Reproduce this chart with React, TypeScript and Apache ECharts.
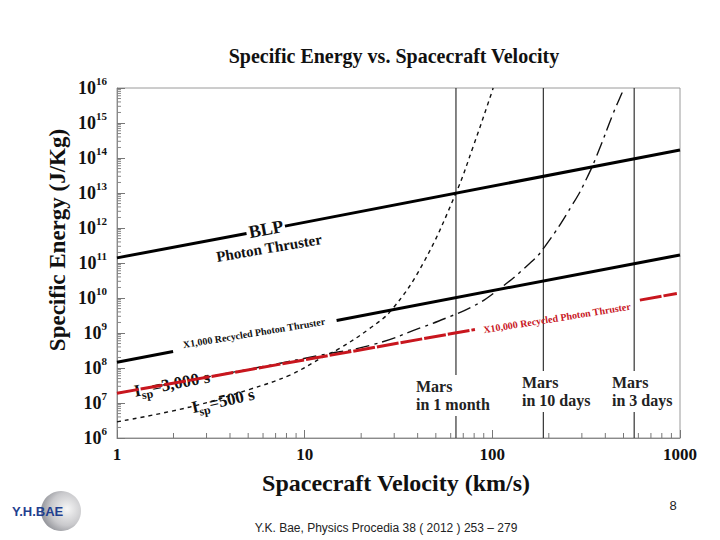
import React, { useEffect, useRef } from 'react';
import * as echarts from 'echarts';

const SERIF = '"Liberation Serif", "Times New Roman", serif';
const SANS = '"Liberation Sans", Arial, sans-serif';

// ---- data (velocity in km/s, specific energy in J/kg) ----
const blpSeg1V = [1, 4.9];
const blpSeg1E = [1.4e11, 7.0e11];
const blpSeg2V = [7.85, 1000];
const blpSeg2E = [1.13e12, 1.7e14];

const x1kSeg1V = [1, 1.99];
const x1kSeg1E = [1.46e8, 2.95e8];
const x1kSeg2V = [14.8, 1000];
const x1kSeg2E = [2.29e9, 1.7e11];

const x10kSeg1V = [1, 80.8];
const x10kSeg1E = [1.9e7, 1.26e9];
const x10kSeg2V = [611, 962];
const x10kSeg2E = [8.7e9, 1.35e10];

const isp500V = [1, 2.45, 5.1, 8.35, 12.6, 15.4, 22, 29.1, 42.8, 64.5, 79, 99, 101];
const isp500E = [2.9e6, 7.7e6, 2.46e7, 6.3e7, 2.1e8, 3.66e8, 1.3e9, 4.6e9, 9.8e10, 1.1e13, 2.1e14, 7.1e15, 1e16];

const isp3000V = [1, 3, 6, 12, 23.2, 42.8, 57, 78, 103, 159, 190, 270, 318, 367, 441, 492, 505];
const isp3000E = [1.9e7, 5.5e7, 1.1e8, 2.3e8, 4.7e8, 1.5e9, 2.7e9, 5.6e9, 1.45e10, 1e11, 2.9e11, 5.1e12, 2.6e13, 1.5e14, 1.9e15, 7.4e15, 1e16];

const marsV = [64, 187, 570];
const marsLabels = ['Mars\nin 1 month', 'Mars\nin 10 days', 'Mars\nin 3 days'];

const xMin = 1;
const xMax = 1000;
const yMin = 1e6;
const yMax = 1e16;

const zip = (a: number[], b: number[]) => a.map((v, i) => [v, b[i]]);

// minor tick positions (2..9 within each decade)
const minorX: number[] = [];
for (let d = 1; d < xMax; d *= 10) for (let k = 2; k <= 9; k++) minorX.push(d * k);
const minorY: number[] = [];
for (let d = yMin; d < yMax; d *= 10) for (let k = 2; k <= 9; k++) minorY.push(d * k);

export default function App() {
  const ref = useRef<HTMLDivElement>(null);

  useEffect(() => {
    if (!ref.current) return;
    const chart = echarts.init(ref.current, undefined, { renderer: 'svg' });

    const solid = (name: string, data: number[][], color: string, z: number, type: any = 'solid') => ({
      name,
      type: 'line',
      data,
      showSymbol: false,
      symbol: 'none',
      z,
      lineStyle: { color, width: 3, type },
      silent: true,
    });

    const ispRich = {
      i: { fontFamily: SERIF, fontWeight: 'bold', fontSize: 17, fill: '#111' },
      sub: { fontFamily: SERIF, fontWeight: 'bold', fontSize: 12, fill: '#111', padding: [11, 0, 0, 0] },
      n: { fontFamily: SERIF, fontWeight: 'bold', fontSize: 17, fill: '#111' },
    };

    const option: any = {
      animation: false,
      backgroundColor: '#ffffff',
      grid: { left: 117, right: 40, top: 88, bottom: 102, show: true, borderColor: '#9a9a9a', borderWidth: 1 },
      xAxis: {
        type: 'log',
        logBase: 10,
        min: xMin,
        max: xMax,
        interval: 1,
        axisLine: { show: true, lineStyle: { color: '#8a8a8a', width: 1 } },
        axisTick: { show: true, inside: true, length: 8, lineStyle: { color: '#777' } },
        splitLine: { show: false },
        axisLabel: {
          margin: 8,
          color: '#111',
          fontFamily: SERIF,
          fontWeight: 'bold',
          fontSize: 17,
          formatter: (v: number) => String(Math.round(v)),
        },
      },
      yAxis: {
        type: 'log',
        logBase: 10,
        min: yMin,
        max: yMax,
        interval: 1,
        splitNumber: 10,
        axisLine: { show: true, lineStyle: { color: '#8a8a8a', width: 1 } },
        axisTick: { show: true, inside: true, length: 8, lineStyle: { color: '#777' } },
        splitLine: { show: false },
        axisLabel: {
          margin: 10,
          color: '#111',
          formatter: (v: number) => `{b|10}{s|${Math.round(Math.log10(v))}}`,
          rich: {
            b: { fontFamily: SERIF, fontWeight: 'bold', fontSize: 18, color: '#111' },
            s: { fontFamily: SERIF, fontWeight: 'bold', fontSize: 11, color: '#111', padding: [0, 0, 14, 0] },
          },
        },
      },
      series: [
        {
          type: 'custom',
          name: 'minorX',
          silent: true,
          z: 3,
          data: minorX.map((v) => [v, yMin]),
          renderItem: (_p: any, api: any) => {
            const pt = api.coord([api.value(0), api.value(1)]);
            return { type: 'line', shape: { x1: pt[0], y1: pt[1], x2: pt[0], y2: pt[1] - 5 }, style: { stroke: '#777', lineWidth: 1 } };
          },
        },
        {
          type: 'custom',
          name: 'minorY',
          silent: true,
          z: 3,
          data: minorY.map((v) => [xMin, v]),
          renderItem: (_p: any, api: any) => {
            const pt = api.coord([api.value(0), api.value(1)]);
            return { type: 'line', shape: { x1: pt[0], y1: pt[1], x2: pt[0] + 4, y2: pt[1] }, style: { stroke: '#888', lineWidth: 1 } };
          },
        },
        {
          type: 'custom',
          name: 'mars',
          silent: true,
          z: 2,
          data: marsV.map((v) => [v, yMin]),
          renderItem: (_p: any, api: any) => {
            const a = api.coord([api.value(0), yMin]);
            const b = api.coord([api.value(0), yMax]);
            return { type: 'line', shape: { x1: a[0], y1: a[1], x2: b[0], y2: b[1] }, style: { stroke: '#333', lineWidth: 1.2 } };
          },
        },
        {
          name: 'Isp=500 s',
          type: 'line',
          data: zip(isp500V, isp500E),
          showSymbol: false,
          symbol: 'none',
          smooth: 0.4,
          z: 3,
          silent: true,
          lineStyle: { color: '#111', width: 1.4, type: [4, 4] },
        },
        {
          name: 'Isp=3,000 s',
          type: 'line',
          data: zip(isp3000V, isp3000E),
          showSymbol: false,
          symbol: 'none',
          smooth: 0.5,
          z: 3,
          silent: true,
          lineStyle: { color: '#111', width: 1.4, type: [14, 5, 3, 5] },
        },
        solid('BLP', zip(blpSeg1V, blpSeg1E), '#000', 4),
        solid('BLP ', zip(blpSeg2V, blpSeg2E), '#000', 4),
        solid('X1,000', zip(x1kSeg1V, x1kSeg1E), '#000', 4),
        solid('X1,000 ', zip(x1kSeg2V, x1kSeg2E), '#000', 4),
        solid('X10,000', zip(x10kSeg1V, x10kSeg1E), '#c8161e', 5, [22, 2]),
        solid('X10,000 ', zip(x10kSeg2V, x10kSeg2E), '#c8161e', 5, [22, 2]),
      ],
      graphic: [
        {
          type: 'text', x: 394, y: 56, z: 50,
          style: { text: 'Specific Energy vs. Spacecraft Velocity', fontFamily: SERIF, fontWeight: 'bold', fontSize: 20, fill: '#111', align: 'center', verticalAlign: 'middle' },
        },
        {
          type: 'text', x: 396, y: 483, z: 50,
          style: { text: 'Spacecraft Velocity (km/s)', fontFamily: SERIF, fontWeight: 'bold', fontSize: 24, fill: '#111', align: 'center', verticalAlign: 'middle' },
        },
        {
          type: 'text', x: 57, y: 240, rotation: Math.PI / 2, z: 50,
          style: { text: 'Specific Energy (J/Kg)', fontFamily: SERIF, fontWeight: 'bold', fontSize: 23, fill: '#111', align: 'center', verticalAlign: 'middle' },
        },
        {
          type: 'text', x: 266, y: 229, rotation: 0.19, z: 50,
          style: { text: 'BLP', fontFamily: SERIF, fontWeight: 'bold', fontSize: 18, fill: '#111', align: 'center', verticalAlign: 'middle' },
        },
        {
          type: 'text', x: 269, y: 248, rotation: 0.17, z: 50,
          style: { text: 'Photon Thruster', fontFamily: SERIF, fontWeight: 'bold', fontSize: 15, fill: '#111', align: 'center', verticalAlign: 'middle' },
        },
        {
          type: 'text', x: 254, y: 333, rotation: 0.165, z: 50,
          style: { text: 'X1,000 Recycled Photon Thruster', fontFamily: SERIF, fontWeight: 'bold', fontSize: 10, fill: '#111', align: 'center', verticalAlign: 'middle' },
        },
        {
          type: 'text', x: 557, y: 318, rotation: 0.16, z: 50,
          style: { text: 'X10,000 Recycled Photon Thruster', fontFamily: SERIF, fontWeight: 'bold', fontSize: 10, fill: '#c8161e', align: 'center', verticalAlign: 'middle' },
        },
        {
          type: 'text', x: 172, y: 384, rotation: 0.19, z: 1,
          style: { text: '{i|I}{sub|sp}{n|=3,000 s}', align: 'center', verticalAlign: 'middle', rich: ispRich },
        },
        {
          type: 'text', x: 223, y: 401, rotation: 0.22, z: 50,
          style: { text: '{i|I}{sub|sp}{n|=500 s}', align: 'center', verticalAlign: 'middle', rich: ispRich },
        },
        ...marsLabels.map((t, i) => ({
          type: 'text',
          x: [414, 520, 610][i],
          y: [375, 371, 371][i],
          z: 100,
          style: {
            text: t, fontFamily: SERIF, fontWeight: 'bold', fontSize: 16, lineHeight: 18, fill: '#222',
            backgroundColor: '#ffffff', padding: [2, 2, 3, 2],
          },
        })),
        {
          type: 'text', x: 386, y: 528, z: 50,
          style: { text: 'Y.K. Bae, Physics Procedia 38 ( 2012 ) 253 – 279', fontFamily: SANS, fontSize: 12, fill: '#222', align: 'center', verticalAlign: 'middle' },
        },
        {
          type: 'text', x: 673, y: 505, z: 50,
          style: { text: '8', fontFamily: SANS, fontSize: 13, fill: '#222', align: 'center', verticalAlign: 'middle' },
        },
        {
          type: 'circle', z: 40,
          shape: { cx: 61, cy: 511, r: 20 },
          style: {
            fill: new echarts.graphic.RadialGradient(0.65, 0.45, 0.75, [
              { offset: 0, color: '#f6f6f6' },
              { offset: 0.55, color: '#c9c9cc' },
              { offset: 1, color: '#7d7f86' },
            ]),
          },
        },
        {
          type: 'text', x: 12, y: 511, z: 60,
          style: { text: 'Y.H.BAE', fontFamily: SANS, fontWeight: 'bold', fontSize: 13, fill: '#1f3f8f', verticalAlign: 'middle' },
        },
      ],
    };

    chart.setOption(option);
    return () => chart.dispose();
  }, []);

  return (
    <div
      ref={ref}
      style={{ position: 'fixed', left: 0, top: 0, width: 720, height: 540, background: '#ffffff' }}
    />
  );
}
